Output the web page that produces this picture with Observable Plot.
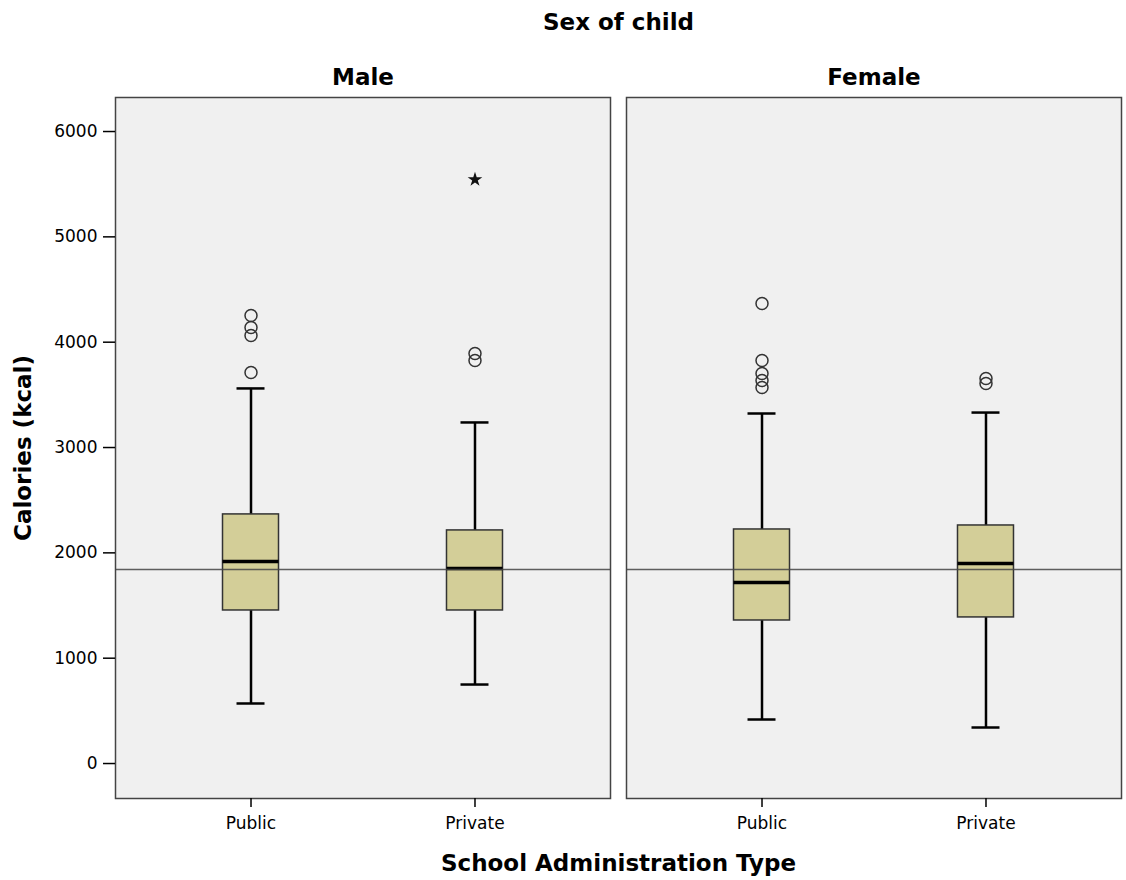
<!DOCTYPE html>
<html>
<head>
<meta charset="utf-8">
<script src="https://cdn.jsdelivr.net/npm/d3@7"></script>
<script src="https://cdn.jsdelivr.net/npm/@observablehq/plot@0.6"></script>
<style>
  html, body { margin: 0; padding: 0; background: #fff; }
</style>
</head>
<body>
<div id="chart"></div>
<script>
// ---- data ----
const sexes = ["Male", "Female"];
const schoolTypes = ["Public", "Private"];

const boxSex = ["Male", "Male", "Female", "Female"];
const boxSchool = ["Public", "Private", "Public", "Private"];
const whiskerLow = [570, 750, 418, 342];
const quartile1 = [1453, 1453, 1358, 1387];
const medians = [1918, 1852, 1719, 1899];
const quartile3 = [2365, 2213, 2222, 2260];
const whiskerHigh = [3561, 3238, 3323, 3332];

const outlierSex = ["Male", "Male", "Male", "Male", "Male", "Male",
                    "Female", "Female", "Female", "Female", "Female", "Female", "Female"];
const outlierSchool = ["Public", "Public", "Public", "Public", "Private", "Private",
                       "Public", "Public", "Public", "Public", "Public", "Private", "Private"];
const outlierValue = [4253, 4139, 4063, 3712, 3892, 3826,
                      4367, 3826, 3703, 3636, 3570, 3655, 3608];

const extremeSex = ["Male"];
const extremeSchool = ["Private"];
const extremeValue = [5544];

const referenceValue = 1842;
const yTicks = [0, 1000, 2000, 3000, 4000, 5000, 6000];

// ---- tables ----
const boxes = boxSex.map((s, i) => ({
  sex: s, school: boxSchool[i], lo: whiskerLow[i], q1: quartile1[i],
  med: medians[i], q3: quartile3[i], hi: whiskerHigh[i]
}));
const outliers = outlierSex.map((s, i) => ({sex: s, school: outlierSchool[i], v: outlierValue[i]}));
const extremes = extremeSex.map((s, i) => ({sex: s, school: extremeSchool[i], v: extremeValue[i]}));

const chart = Plot.plot({
  width: 1126,
  height: 880,
  marginTop: 97,
  marginBottom: 82,
  marginLeft: 115,
  marginRight: 5,
  style: {fontFamily: "DejaVu Sans", fontSize: "17px", color: "#000", background: "#fff"},
  fx: {domain: sexes, paddingInner: 16 / 511, paddingOuter: 0, round: false, label: "Sex of child"},
  x: {domain: schoolTypes, paddingInner: 0.75, paddingOuter: 0.48, round: false},
  y: {domain: [-332, 6323]},
  marks: [
    Plot.frame({fill: "#f0f0f0", stroke: null}),
    Plot.ruleX(boxes, {fx: "sex", x: "school", y1: "lo", y2: "q1", stroke: "#000", strokeWidth: 2.5}),
    Plot.ruleX(boxes, {fx: "sex", x: "school", y1: "q3", y2: "hi", stroke: "#000", strokeWidth: 2.5}),
    Plot.tickY(boxes, {fx: "sex", x: "school", y: "lo", stroke: "#000", strokeWidth: 2.5, insetLeft: 14, insetRight: 14}),
    Plot.tickY(boxes, {fx: "sex", x: "school", y: "hi", stroke: "#000", strokeWidth: 2.5, insetLeft: 14, insetRight: 14}),
    Plot.barY(boxes, {fx: "sex", x: "school", y1: "q1", y2: "q3", fill: "#d3ce98", stroke: "#333", strokeWidth: 1.5}),
    Plot.tickY(boxes, {fx: "sex", x: "school", y: "med", stroke: "#000", strokeWidth: 3.5}),
    Plot.ruleY([referenceValue], {stroke: "#444", strokeWidth: 1.5, strokeOpacity: 0.85}),
    Plot.dot(outliers, {fx: "sex", x: "school", y: "v", r: 6, stroke: "#333", strokeWidth: 1.5, fill: "none"}),
    Plot.dot(extremes, {fx: "sex", x: "school", y: "v", symbol: "star", r: 4.6, fill: "#111", stroke: "none"}),
    Plot.frame({stroke: "#444", strokeWidth: 1.5}),
    Plot.axisY({ticks: yTicks, tickFormat: d => String(d), tickSize: 12, tickPadding: 6,
                label: "Calories (kcal)", labelArrow: "none", labelAnchor: "center", labelOffset: 101,
                stroke: "#000", strokeWidth: 1.5}),
    Plot.axisX({tickSize: 9, tickPadding: 9, label: "School Administration Type", labelArrow: "none",
                labelAnchor: "center", labelOffset: 72, stroke: "#000", strokeWidth: 1.5}),
    Plot.axisFx({anchor: "top", tickSize: 0, tickPadding: 13, label: "Sex of child", labelArrow: "none",
                 labelAnchor: "center", labelOffset: 84, fontSize: 23, fontWeight: "bold"})
  ]
});

chart.querySelectorAll('g[aria-label="y-axis label"], g[aria-label="x-axis label"]').forEach(g => {
  g.setAttribute("font-size", 23);
  g.setAttribute("font-weight", "bold");
});

document.getElementById("chart").appendChild(chart);
</script>
</body>
</html>
